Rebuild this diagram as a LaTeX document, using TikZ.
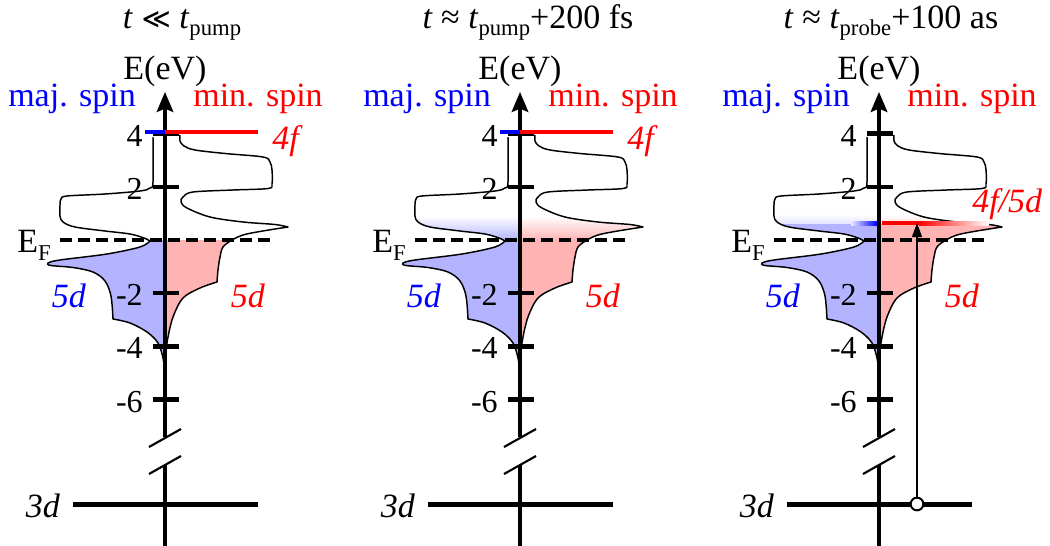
\documentclass[tikz,border=0pt]{standalone}
\usepackage{fontspec}
\setmainfont{Liberation Serif}
\newfontfamily\symfnt{DejaVu Sans}
\usetikzlibrary{arrows.meta}
\definecolor{bfill}{RGB}{179,179,255}
\definecolor{rfill}{RGB}{255,179,179}
\newcommand\LOut{plot[smooth,tension=0.55] coordinates {(-12,137) (-12,182) (-15,188) (-25,191) (-60,194) (-98,196) (-104,199) (-105,205) (-105,216) (-102,222) (-90,227) (-60,231) (-35,234) (-21,238) (-15,241)} -- plot[smooth,tension=0.55] coordinates {(-15,241) (-25,247) (-58,254) (-105,260) (-117,263) (-114,265.5) (-92,267.5) (-72,272) (-60,281) (-54,296) (-52,319)} -- plot[smooth,tension=0.55] coordinates {(-52,319) (-35,323) (-18,332) (-7,343) (-2,358) (0,373)}}
\newcommand\ROut{plot[smooth,tension=0.55] coordinates {(15,135) (15,141) (19,146) (30,150) (60,153.5) (98,157) (105,162) (107,170) (107,184) (103,188.5) (68,190) (28,192) (18,197) (16,202) (22,208) (45,217) (78,222) (110,224.5) (123,227)} -- plot[smooth,tension=0.55] coordinates {(123,227) (110,229) (92,232) (78,235) (67,240) (58,247) (55,257) (53,270) (52,282)} -- plot[smooth,tension=0.55] coordinates {(52,282) (35,288) (18,298) (8,317) (3,337) (1,350) (0,352)}}
\newcommand\lowsub[2]{\raisebox{-#2}{\fontsize{17pt}{17pt}\selectfont #1}}
\tikzset{
 outl/.style={line width=1.1pt, line join=round},
 axisl/.style={line width=2.3pt},
 tickmark/.style={line width=3.4pt},
 slash/.style={line width=1.6pt},
 efline/.style={line width=2.3pt, dash pattern=on 9pt off 4.5pt},
 lvl/.style={line width=3.75pt},
 colline/.style={line width=3.6pt},
 lbl/.style={inner sep=0pt, font=\fontsize{25.5pt}{30pt}\selectfont},
 ticklbl/.style={inner sep=0pt, anchor=east, font=\fontsize{24pt}{28pt}\selectfont},
}
\newcommand\panelbase[1]{%
 \draw[outl] \LOut;
 \draw[outl] \ROut;
 \draw[axisl] (0,546) -- (0,465);
 \draw[axisl,-{Stealth[length=15pt,width=12.5pt,inset=2.5pt]}] (0,437) -- (0,92);
 \draw[slash] (-16,447) -- (16,429);
 \draw[slash] (-16,474) -- (16,456);
 \foreach \e/\nm in {4/a,2/b,-2/c,-4/d,-6/e}{
   \pgfmathsetmacro\yy{240-26.6*\e}
   \draw[tickmark] (-12.5,\yy) -- (13.5,\yy);
   \node[ticklbl] (#1\nm) at (-22,\yy+2) {\e};
 }
 \draw[efline] (-105,240) -- (105,240);
 \node[lbl,anchor=base] (#1E) at (0,79) {E(eV)};
 \node[lbl,anchor=base,text=blue] (#1maj) at (-93,106) {maj. spin};
 \node[lbl,anchor=base,text=red] (#1min) at (93,106) {min. spin};
 \node[lbl,anchor=base west] (#1EF) at (-148,252) {E\lowsub{F}{6pt}};
 \node[lbl,anchor=base,text=blue] (#1dl) at (-96,307) {\textit{5d}};
 \node[lbl,anchor=base,text=red] (#1dr) at (83,307) {\textit{5d}};
 \draw[lvl] (-92,504) -- (93,504);
 \node[lbl,anchor=base] (#1td) at (-122,517) {\textit{3d}};
}
\begin{document}
\begin{tikzpicture}[x=0.75pt,y=-0.75pt]
\useasboundingbox (0,0) rectangle (1050,546);
% titles
\node[lbl,anchor=base] (title1) at (182,28.5) {\textit{t} {\symfnt\fontsize{21pt}{26pt}\selectfont ≪} \textit{t}\lowsub{pump}{5pt}};
\node[lbl,anchor=base] (title2) at (528,28.5) {\textit{t} ≈ \textit{t}\lowsub{pump}{5pt}+200 fs};
\node[lbl,anchor=base] (title3) at (891,28.5) {\textit{t} ≈ \textit{t}\lowsub{probe}{5pt}+100 as};
% panel 1
\begin{scope}[shift={(165,0)}]
 \begin{scope}
  \clip (-130,240) rectangle (130,400);
  \fill[bfill] \LOut -- (0,137) -- cycle;
  \fill[rfill] \ROut -- (0,135) -- cycle;
 \end{scope}
 \panelbase{p1}
 \draw[colline,blue] (-20,132) -- (0,132);
 \draw[colline,red] (0,132) -- (93,132);
 \node[lbl,anchor=base west,text=red] (p1f) at (107,149) {\textit{4f}};
\end{scope}
% panel 2
\begin{scope}[shift={(520,0)}]
 \begin{scope}
  \clip \LOut -- (0,137) -- cycle;
  \fill[bfill] (-130,240) rectangle (0,400);
  \shade[top color=white,bottom color=bfill] (-130,216) rectangle (0,240.5);
 \end{scope}
 \begin{scope}
  \clip \ROut -- (0,135) -- cycle;
  \fill[rfill] (0,240) rectangle (130,400);
  \shade[top color=white,bottom color=rfill] (0,216) rectangle (130,240.5);
 \end{scope}
 \panelbase{p2}
 \draw[colline,blue] (-20,132) -- (0,132);
 \draw[colline,red] (0,132) -- (93,132);
 \node[lbl,anchor=base west,text=red] (p2f) at (107,149) {\textit{4f}};
\end{scope}
% panel 3
\begin{scope}[shift={(879,0)}]
 \begin{scope}
  \clip \LOut -- (0,137) -- cycle;
  \fill[bfill] (-130,223) rectangle (0,400);
  \shade[top color=white,bottom color=bfill!35] (-130,214) rectangle (0,223.5);
 \end{scope}
 \begin{scope}
  \clip \ROut -- (0,135) -- cycle;
  \fill[rfill] (0,223) rectangle (130,400);
  \shade[top color=white,bottom color=rfill!35] (0,214) rectangle (130,223.5);
 \end{scope}
 \panelbase{p3}
 \shade[left color=blue!8,right color=blue] (-28,221) rectangle (-2,225);
 \fill[red] (3,221) rectangle (40.5,225);
 \shade[left color=red,right color=white] (40,221) rectangle (110,225);
 \node[lbl,anchor=base west,text=red] (p3f) at (93,212) {\textit{4f/5d}};
 \coordinate (p3top) at (38,223);
 \node[circle,draw,fill=white,line width=1.5pt,inner sep=0pt,minimum size=9.5pt] (p3c) at (38,504) {};
 \draw[line width=1.1pt,-{Triangle[length=10.5pt,width=7.5pt]}] (p3c.north) -- (p3top);
\end{scope}
\end{tikzpicture}
\end{document}
